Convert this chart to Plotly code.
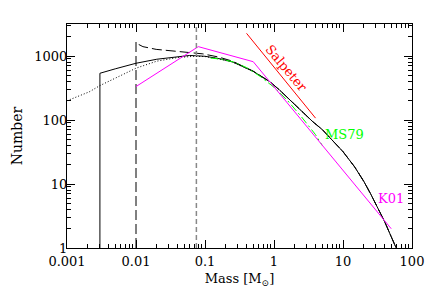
import plotly.graph_objects as go
import math

# ---- data ----
tail_m = [0.5, 0.86, 1.2, 2.0, 3.65, 5.0, 6.3, 8.4, 10, 14.7, 20, 25, 31.6, 40, 50, 59]
tail_n = [575, 400, 295, 174, 94, 71, 55, 39, 32, 18.6, 11, 7.1, 4.4, 2.6, 1.5, 1]

solid_m = [0.003, 0.003, 0.005, 0.01, 0.02, 0.04, 0.06, 0.1, 0.16, 0.25] + tail_m
solid_n = [1, 537, 630, 770, 890, 980, 1020, 990, 910, 810] + tail_n

dotted_m = [0.001, 0.0021, 0.003, 0.005, 0.01, 0.02, 0.04, 0.07, 0.1, 0.16, 0.25] + tail_m
dotted_n = [200, 275, 345, 450, 645, 830, 945, 990, 980, 900, 805] + tail_n

dashed_m = [0.01, 0.01, 0.011, 0.0126, 0.0196, 0.034, 0.06, 0.093, 0.16, 0.25] + tail_m
dashed_n = [1, 1670, 1510, 1400, 1270, 1200, 1140, 1080, 960, 830] + [580] + tail_n[1:]

k01_m = [0.01, 0.08, 0.5, 50]
k01_n = [333, 1400, 815, 2.0]

ms79_m = [0.12, 0.16, 0.25, 0.4, 0.63, 1.0, 1.58, 2.5, 4.0, 5.0]
ms79_n = [930, 900, 815, 660, 480, 325, 200, 112, 59, 40]

salp_m = [0.4, 4.0]
salp_n = [2260, 107]

hburn_m = 0.075

# label anchor positions (mass, number)
labels = ["Salpeter", "MS79", "K01"]
label_m = [1.52, 10.5, 48.8]
label_n = [640, 58.5, 5.94]

xtick_vals = [0.001, 0.01, 0.1, 1, 10, 100]
xtick_text = ["0.001", "0.01", "0.1", "1", "10", "100"]
ytick_vals = [1, 10, 100, 1000]
ytick_text = ["1", "10", "100", "1000"]

FONT = "DejaVu Serif"

fig = go.Figure()
fig.add_trace(go.Scatter(x=dotted_m, y=dotted_n, mode="lines",
                         line=dict(color="black", width=1, dash="1px,2px")))
fig.add_trace(go.Scatter(x=dashed_m, y=dashed_n, mode="lines",
                         line=dict(color="black", width=1, dash="10px,4px")))
fig.add_trace(go.Scatter(x=solid_m, y=solid_n, mode="lines",
                         line=dict(color="black", width=1)))
fig.add_trace(go.Scatter(x=ms79_m, y=ms79_n, mode="lines",
                         line=dict(color="#00ff00", width=1, dash="8px,3px,2px,3px")))
fig.add_trace(go.Scatter(x=k01_m, y=k01_n, mode="lines",
                         line=dict(color="#ff00ff", width=1)))
fig.add_trace(go.Scatter(x=salp_m, y=salp_n, mode="lines",
                         line=dict(color="#ff0000", width=1)))

fig.add_vline(x=hburn_m, line=dict(color="#888888", width=1.5, dash="5px,3px"))

label_col = ["#ff0000", "#00ff00", "#ff00ff"]
label_ang = [50, 0, 0]
for t, m, n, c, a in zip(labels, label_m, label_n, label_col, label_ang):
    fig.add_annotation(x=math.log10(m), y=math.log10(n), xref="x", yref="y",
                       text=t, showarrow=False, textangle=a,
                       xanchor="center", yanchor="middle",
                       font=dict(family=FONT, size=13, color=c))

minor_x = [d * 10 ** e for e in range(-3, 2) for d in range(2, 10)]
minor_y = [d * 10 ** e for e in range(0, 4) for d in range(2, 10)]

fig.update_xaxes(type="log", range=[-3, 2], tickmode="array",
                 tickvals=xtick_vals, ticktext=xtick_text, automargin=False,
                 ticks="inside", ticklen=8, tickwidth=1, tickcolor="black",
                 ticklabelstandoff=1,
                 minor=dict(tickmode="array", tickvals=minor_x, ticks="inside",
                            ticklen=4, tickwidth=1, tickcolor="black", showgrid=False),
                 showline=True, linecolor="black", linewidth=1, mirror="allticks",
                 showgrid=False, zeroline=False,
                 tickfont=dict(family=FONT, size=13, color="black"),
                 title=dict(text="Mass [M<sub>⊙</sub>]", standoff=6,
                            font=dict(family=FONT, size=13, color="black")))
fig.update_yaxes(type="log", range=[0, 3.5], tickmode="array",
                 tickvals=ytick_vals, ticktext=ytick_text, automargin=False,
                 ticks="inside", ticklen=8, tickwidth=1, tickcolor="black",
                 ticklabelstandoff=-4,
                 minor=dict(tickmode="array", tickvals=minor_y, ticks="inside",
                            ticklen=4, tickwidth=1, tickcolor="black", showgrid=False),
                 showline=True, linecolor="black", linewidth=1, mirror="allticks",
                 showgrid=False, zeroline=False,
                 tickfont=dict(family=FONT, size=13, color="black"),
                 title=dict(text="Number", standoff=8,
                            font=dict(family=FONT, size=14, color="black")))

# page body adds an 8px offset, so the margins are reduced to compensate
fig.update_layout(width=436, height=299, showlegend=False,
                  margin=dict(l=59, r=32, t=16, b=59),
                  paper_bgcolor="white", plot_bgcolor="white")

fig.write_html("out.html")
